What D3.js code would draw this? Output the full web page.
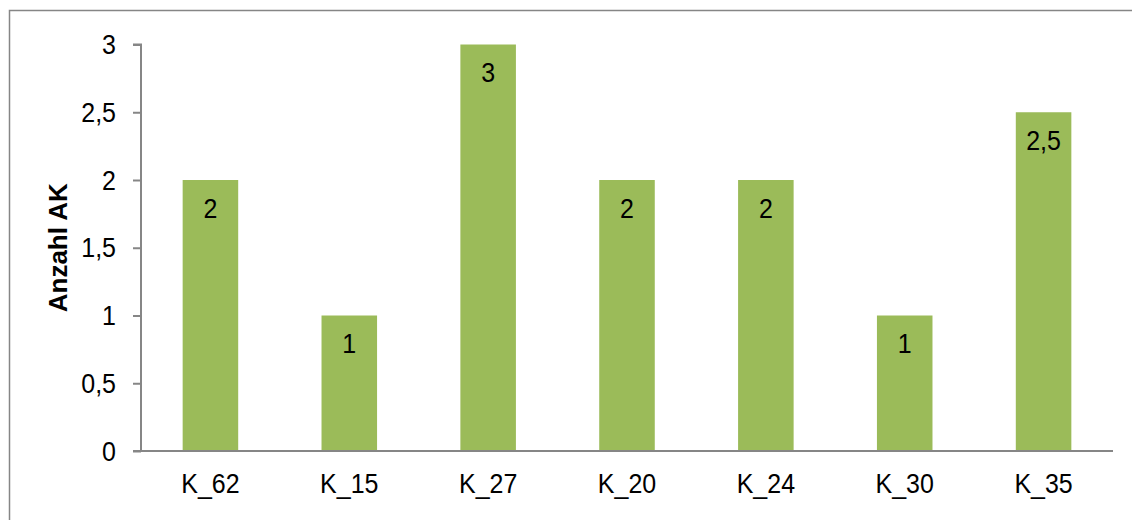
<!DOCTYPE html>
<html>
<head>
<meta charset="utf-8">
<script src="https://cdn.jsdelivr.net/npm/d3@7"></script>
<style>
  html, body { margin: 0; padding: 0; background: #fff; }
  svg { display: block; }
  text { font-family: "Liberation Sans", Arial, sans-serif; fill: #000; }
</style>
</head>
<body>
<svg id="chart" width="1132" height="520"></svg>
<script>
// Anzahl AK je Betrieb
const categories = ["K_62", "K_15", "K_27", "K_20", "K_24", "K_30", "K_35"];
const values = [2, 1, 3, 2, 2, 1, 2.5];
const yTicks = [0, 0.5, 1, 1.5, 2, 2.5, 3];
const yTitle = "Anzahl AK";

const de = d3.formatLocale({ decimal: ",", thousands: ".", grouping: [3], currency: ["", " €"] });
const fmt = v => de.format("~g")(v);

const svg = d3.select("#chart");
const W = 1132, H = 520;
const plot = { left: 141, right: 1113, top: 44.5, bottom: 451 };
const barColor = "#9BBB59";
const axisColor = "#868686";
const fontSize = 25;
const stretch = 1.1;   // glyphs are drawn slightly taller than wide

// outer frame of the chart area
svg.append("rect")
  .attr("x", 9.5).attr("y", 10.5)
  .attr("width", W + 20).attr("height", H + 20)
  .attr("fill", "none").attr("stroke", axisColor).attr("stroke-width", 1.5);

const x = d3.scaleBand()
  .domain(categories)
  .range([plot.left, plot.right])
  .paddingInner(0.6)
  .paddingOuter(0.3);

const y = d3.scaleLinear()
  .domain([0, 3])
  .range([plot.bottom, plot.top]);

const rows = categories.map((c, i) => ({ c, v: values[i] }));

// bars
svg.append("g").selectAll("rect")
  .data(rows)
  .join("rect")
  .attr("x", d => x(d.c))
  .attr("width", x.bandwidth())
  .attr("y", d => y(d.v))
  .attr("height", d => y(0) - y(d.v))
  .attr("fill", barColor);

// value labels inside the top of each bar
svg.append("g").selectAll("text")
  .data(rows)
  .join("text")
  .attr("transform", d => `translate(${x(d.c) + x.bandwidth() / 2},${y(d.v) + 37.5}) scale(1,${stretch})`)
  .attr("text-anchor", "middle")
  .attr("font-size", fontSize)
  .text(d => fmt(d.v));

// y axis
const yAxis = d3.axisLeft(y)
  .tickValues(yTicks)
  .tickSize(8)
  .tickPadding(17)
  .tickFormat(fmt);

const gy = svg.append("g")
  .attr("transform", `translate(${plot.left},0)`)
  .call(yAxis);
gy.select(".domain").attr("stroke", axisColor).attr("stroke-width", 2)
  .attr("d", `M-8,${plot.top}H0V${plot.bottom}`);
gy.selectAll(".tick line").attr("stroke", axisColor).attr("stroke-width", 2);
gy.selectAll(".tick text")
  .attr("font-size", fontSize)
  .attr("font-family", "Liberation Sans, Arial, sans-serif")
  .attr("fill", "#000")
  .attr("dy", "0.33em")
  .attr("transform", `scale(1,${stretch})`);

// x axis (baseline, no ticks)
const xAxis = d3.axisBottom(x).tickSize(0).tickPadding(0);
const gx = svg.append("g")
  .attr("transform", `translate(0,${plot.bottom})`)
  .call(xAxis);
gx.select(".domain").attr("stroke", axisColor).attr("stroke-width", 2)
  .attr("d", `M${plot.left - 8},0H${plot.right}`);
gx.selectAll(".tick text")
  .attr("font-size", fontSize)
  .attr("font-family", "Liberation Sans, Arial, sans-serif")
  .attr("fill", "#000")
  .attr("y", 0)
  .attr("dy", 0)
  .attr("transform", `translate(0,42) scale(1,${stretch})`);

// y axis title
svg.append("text")
  .attr("transform", `translate(67,${(plot.top + plot.bottom) / 2}) rotate(-90)`)
  .attr("text-anchor", "middle")
  .attr("font-size", 26)
  .attr("font-weight", "bold")
  .text(yTitle);
</script>
</body>
</html>
